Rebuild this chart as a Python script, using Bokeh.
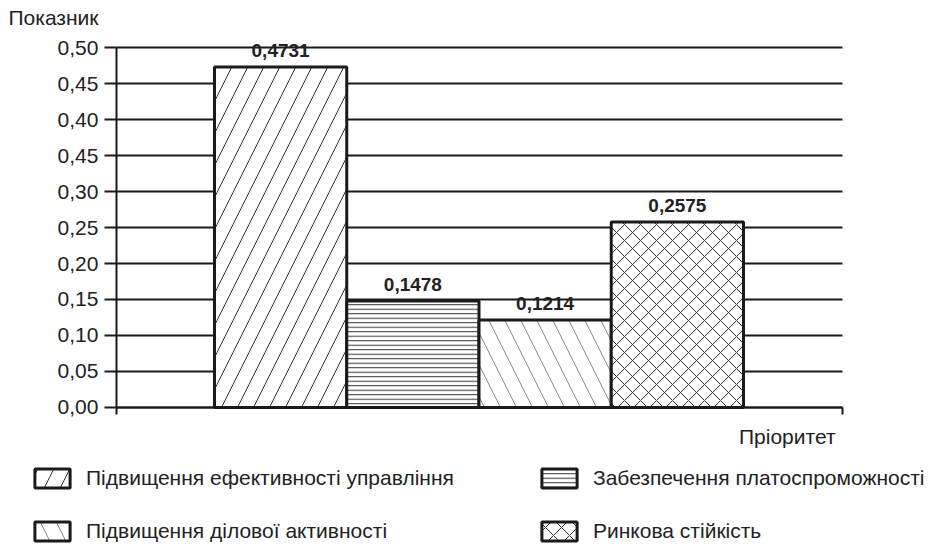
from bokeh.plotting import figure
from bokeh.models import (ColumnDataSource, Range1d, FixedTicker,
                          Label, LabelSet, Legend, LegendItem)
from bokeh.core.properties import value
from bokeh.embed import file_html
from bokeh.resources import INLINE

# ---- data ----
categories = ["Підвищення ефективності управління", "Забезпечення платоспроможності",
              "Підвищення ділової активності", "Ринкова стійкість"]
values = [0.4731, 0.1478, 0.1214, 0.2575]
value_labels = ["0,4731", "0,1478", "0,1214", "0,2575"]
y_ticks = [0.00, 0.05, 0.10, 0.15, 0.20, 0.25, 0.30, 0.35, 0.40, 0.45, 0.50]
y_tick_labels = ["0,00", "0,05", "0,10", "0,15", "0,20", "0,25", "0,30", "0,45", "0,40", "0,45", "0,50"]
y_axis_title = "Показник"
x_axis_title = "Пріоритет"

# ---- styles ----
hatches = ["/", "-", "\\", "x"]
hatch_scales = [32, 4.5, 32, 16]
hatch_colors = ["#333333", "#333333", "#8a8a8a", "#333333"]
FONT = "Liberation Sans"
INK = "#1a1a1a"
W, H = 941, 544

# ---- geometry (plot frame covers the whole canvas; axes are pinned) ----
xpos = [i + 1 for i in range(len(categories))]
axis_left = 0.5 - 0.741          # where the value axis sits (data units)
axis_right = len(categories) + 0.5 + 0.749
x_start = 0.5 - 1.618
x_end = len(categories) + 0.5 + 1.497
y_top, y_bottom = 0.5653, -0.1903

src = ColumnDataSource(dict(x=xpos, cat=categories, val=values, vlab=value_labels,
                            hatch=hatches, hscale=hatch_scales, hcolor=hatch_colors))

p = figure(width=W, height=H, output_backend="svg", toolbar_location=None, title=None,
           x_range=Range1d(x_start, x_end), y_range=Range1d(y_bottom, y_top),
           min_border=0)
p.outline_line_color = None
p.background_fill_color = "white"
p.border_fill_color = "white"

xa = p.xaxis[0]
xa.fixed_location = 0
xa.bounds = (axis_left, axis_right)
xa.ticker = FixedTicker(ticks=[axis_left, axis_right])
xa.axis_line_width = 2
xa.axis_line_color = INK
xa.major_tick_line_width = 2
xa.major_tick_line_color = INK
xa.major_tick_out = 7
xa.major_tick_in = 0
xa.minor_tick_line_color = None
xa.major_label_text_font_size = "0px"
xa.major_label_text_alpha = 0
p.xgrid.visible = False

ya = p.yaxis[0]
ya.fixed_location = axis_left
ya.bounds = (0, 0.5)
ya.ticker = FixedTicker(ticks=y_ticks)
ya.major_label_overrides = {t: lab for t, lab in zip(y_ticks, y_tick_labels)}
ya.axis_line_width = 2
ya.axis_line_color = INK
ya.major_tick_line_width = 2
ya.major_tick_line_color = INK
ya.major_tick_out = 12
ya.major_tick_in = 0
ya.minor_tick_line_color = None
ya.major_label_text_font = FONT
ya.major_label_text_font_size = "21px"
ya.major_label_text_color = "#222"
ya.major_label_standoff = 6

g = p.ygrid[0]
g.ticker = FixedTicker(ticks=y_ticks)
g.grid_line_color = INK
g.grid_line_width = 2
if "cross_bounds" in g.properties():
    g.cross_bounds = (axis_left, axis_right)

r = p.vbar(x="x", top="val", bottom=0, width=1, source=src,
           fill_color="white", line_color=INK, line_width=3,
           hatch_pattern="hatch", hatch_scale="hscale", hatch_color="hcolor", hatch_weight=1)

labels = LabelSet(x="x", y="val", text="vlab", source=src, y_offset=10,
                  text_align="center", text_baseline="bottom",
                  text_font=value(FONT), text_font_size="19px", text_font_style="bold",
                  text_color="#222")
p.add_layout(labels)

p.add_layout(Label(x=8, y=H - 17, x_units="screen", y_units="screen", text=y_axis_title,
                   text_font=FONT, text_font_size="21px", text_color="#222",
                   text_align="left", text_baseline="middle"))
p.add_layout(Label(x=835, y=H - 436, x_units="screen", y_units="screen", text=x_axis_title,
                   text_font=FONT, text_font_size="21px", text_color="#222",
                   text_align="right", text_baseline="middle"))


def make_legend(idx, loc):
    leg = Legend(items=[LegendItem(label=value(categories[i]), renderers=[r], index=i) for i in idx],
                 location=loc, orientation="vertical")
    leg.border_line_color = None
    leg.background_fill_alpha = 0
    leg.padding = 0
    leg.margin = 0
    leg.spacing = 29
    leg.glyph_width = 44
    leg.glyph_height = 24
    leg.label_height = 24
    leg.label_standoff = 12
    leg.label_text_font = FONT
    leg.label_text_font_size = "21px"
    leg.label_text_color = "#222"
    leg.label_text_baseline = "middle"
    return leg


p.add_layout(make_legend([0, 2], (30, 1)))
p.add_layout(make_legend([1, 3], (537, 1)))

open("out.html", "w").write(file_html(p, INLINE))
